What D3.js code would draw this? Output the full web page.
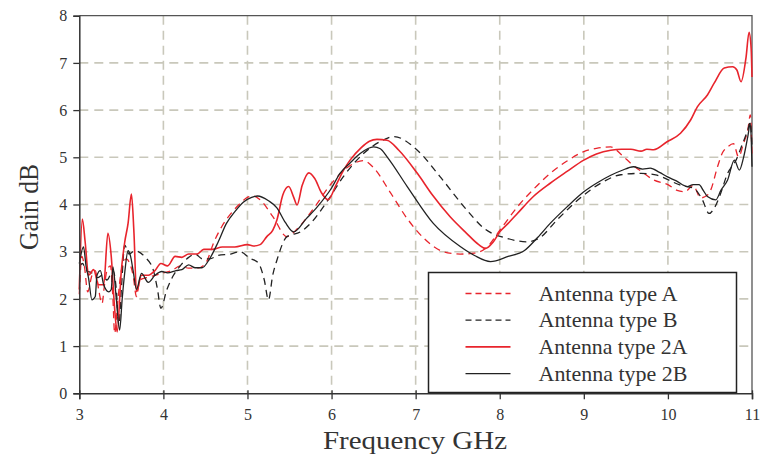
<!DOCTYPE html>
<html>
<head>
<meta charset="utf-8">
<script src="https://cdn.jsdelivr.net/npm/d3@7"></script>
<style>
  body { margin: 0; background: #fff; }
  svg { display: block; }
  text { font-family: "Liberation Serif", "Times New Roman", serif; fill: #333; }
</style>
</head>
<body>
<div id="chart"></div>
<script>
// x ticks and y ticks
const xTicks = [3, 4, 5, 6, 7, 8, 9, 10, 11]
const yTicks = [0, 1, 2, 3, 4, 5, 6, 7, 8]

// Antenna type A (red dashed)
const freqA = [3.0, 3.03, 3.06, 3.1, 3.15, 3.19, 3.23, 3.27, 3.3, 3.33, 3.37, 3.4, 3.42, 3.46, 3.5, 3.56, 3.6, 3.64, 3.68, 3.72, 3.8, 3.9, 4.0, 4.1, 4.2, 4.3, 4.4, 4.5, 4.6, 4.7, 4.8, 4.9, 5.0, 5.07, 5.15, 5.3, 5.47, 5.6, 5.8, 6.0, 6.2, 6.38, 6.5, 6.7, 6.9, 7.1, 7.3, 7.45, 7.53, 7.7, 7.85, 8.0, 8.21, 8.4, 8.6, 8.8, 9.0, 9.15, 9.32, 9.45, 9.56, 9.7, 9.83, 10.0, 10.11, 10.2, 10.3, 10.39, 10.47, 10.51, 10.59, 10.65, 10.71, 10.78, 10.84, 10.9, 10.95, 10.98, 11.0]
const gainA = [2.1, 2.9, 2.7, 2.15, 2.5, 2.6, 2.2, 1.9, 2.3, 2.61, 2.7, 2.0, 1.27, 2.0, 2.6, 2.85, 2.75, 2.5, 2.05, 2.4, 2.45, 2.5, 2.55, 2.6, 2.7, 2.65, 2.65, 2.75, 3.2, 3.55, 3.8, 4.0, 4.15, 4.18, 4.1, 3.75, 3.32, 3.5, 3.95, 4.45, 4.8, 4.93, 4.78, 4.25, 3.7, 3.28, 3.02, 2.96, 2.95, 2.97, 3.1, 3.45, 3.95, 4.32, 4.66, 4.92, 5.12, 5.19, 5.22, 5.05, 4.87, 4.68, 4.52, 4.42, 4.3, 4.27, 4.4, 4.14, 4.2, 4.31, 4.8, 5.1, 5.22, 5.29, 5.01, 5.3, 5.58, 5.9, 5.0]

// Antenna type B (black dashed)
const freqB = [3.0, 3.04, 3.08, 3.15, 3.22, 3.27, 3.33, 3.4, 3.44, 3.47, 3.5, 3.54, 3.59, 3.66, 3.78, 3.88, 3.93, 3.97, 4.04, 4.12, 4.2, 4.3, 4.38, 4.46, 4.55, 4.65, 4.8, 4.91, 5.03, 5.13, 5.2, 5.25, 5.3, 5.35, 5.47, 5.63, 5.75, 5.96, 6.14, 6.38, 6.62, 6.74, 7.02, 7.29, 7.61, 7.81, 8.09, 8.33, 8.48, 8.68, 9.0, 9.2, 9.44, 9.68, 9.87, 10.15, 10.31, 10.41, 10.49, 10.55, 10.62, 10.71, 10.81, 10.89, 10.95, 10.98, 11.0]
const gainB = [2.7, 2.75, 2.6, 2.55, 2.45, 2.5, 2.4, 2.6, 2.2, 1.45, 2.2, 3.14, 2.95, 3.02, 2.89, 2.61, 2.2, 1.8, 2.19, 2.5, 2.7, 2.88, 2.95, 2.85, 2.85, 2.92, 2.95, 3.0, 2.86, 2.76, 2.4, 1.98, 2.5, 2.82, 3.32, 3.42, 3.6, 4.1, 4.59, 5.08, 5.37, 5.44, 5.15, 4.59, 3.88, 3.5, 3.28, 3.21, 3.3, 3.67, 4.2, 4.45, 4.63, 4.66, 4.62, 4.41, 4.34, 4.1, 3.81, 3.92, 4.2, 4.66, 4.94, 5.3, 5.58, 5.75, 5.2]

// Antenna type 2A (red solid)
const freq2A = [3.0, 3.036, 3.07, 3.11, 3.17, 3.23, 3.29, 3.34, 3.38, 3.42, 3.45, 3.5, 3.54, 3.58, 3.62, 3.65, 3.68, 3.74, 3.82, 3.9, 3.97, 4.05, 4.14, 4.22, 4.3, 4.4, 4.48, 4.58, 4.7, 4.85, 5.0, 5.07, 5.15, 5.23, 5.3, 5.35, 5.42, 5.49, 5.55, 5.59, 5.65, 5.73, 5.8, 5.88, 5.96, 6.05, 6.15, 6.22, 6.35, 6.45, 6.54, 6.66, 6.8, 7.02, 7.2, 7.41, 7.6, 7.75, 7.83, 7.92, 8.0, 8.1, 8.21, 8.4, 8.6, 8.8, 9.0, 9.15, 9.32, 9.45, 9.56, 9.68, 9.75, 9.83, 9.99, 10.15, 10.27, 10.35, 10.47, 10.55, 10.67, 10.77, 10.82, 10.87, 10.93, 10.965, 10.99, 11.0]
const gain2A = [2.2, 3.69, 3.2, 2.5, 2.62, 2.3, 2.3, 3.39, 2.9, 1.8, 1.3, 2.6, 3.2, 3.6, 4.22, 3.4, 2.15, 2.5, 2.5, 2.6, 2.75, 2.7, 2.9, 2.88, 2.95, 2.95, 3.05, 3.05, 3.1, 3.1, 3.15, 3.12, 3.15, 3.32, 3.45, 3.67, 4.2, 4.38, 4.15, 3.99, 4.4, 4.67, 4.55, 4.25, 4.1, 4.4, 4.75, 4.94, 5.2, 5.34, 5.38, 5.36, 5.15, 4.66, 4.2, 3.74, 3.4, 3.15, 3.07, 3.2, 3.42, 3.6, 3.81, 4.17, 4.45, 4.7, 4.94, 5.07, 5.15, 5.17, 5.17, 5.13, 5.17, 5.16, 5.33, 5.51, 5.79, 6.07, 6.32, 6.57, 6.89, 6.92, 6.85, 6.6, 7.13, 7.65, 7.3, 6.7]

// Antenna type 2B (black solid)
const freq2B = [3.0, 3.05, 3.08, 3.11, 3.15, 3.19, 3.21, 3.25, 3.29, 3.35, 3.38, 3.4, 3.44, 3.48, 3.51, 3.54, 3.58, 3.61, 3.64, 3.68, 3.74, 3.82, 3.9, 3.98, 4.05, 4.15, 4.22, 4.3, 4.38, 4.46, 4.55, 4.65, 4.75, 4.85, 4.95, 5.05, 5.12, 5.25, 5.35, 5.45, 5.55, 5.7, 5.83, 6.0, 6.1, 6.22, 6.34, 6.5, 6.58, 6.66, 6.9, 7.21, 7.53, 7.7, 7.89, 8.1, 8.29, 8.45, 8.6, 8.8, 9.0, 9.15, 9.32, 9.45, 9.59, 9.7, 9.79, 9.9, 9.99, 10.1, 10.23, 10.3, 10.37, 10.42, 10.47, 10.57, 10.63, 10.71, 10.79, 10.85, 10.9, 10.95, 10.98, 11.0]
const gain2B = [2.75, 3.1, 2.7, 2.44, 1.98, 2.05, 2.5, 2.6, 2.3, 2.15, 2.2, 2.68, 2.0, 1.34, 2.0, 2.55, 3.02, 2.9, 2.6, 2.2, 2.54, 2.35, 2.5, 2.58, 2.55, 2.6, 2.62, 2.72, 2.66, 2.66, 2.85, 3.2, 3.6, 3.85, 4.05, 4.15, 4.18, 4.08, 3.93, 3.62, 3.42, 3.7, 3.95, 4.35, 4.66, 4.88, 5.08, 5.22, 5.18, 5.01, 4.38, 3.6, 3.11, 2.92, 2.79, 2.9, 3.02, 3.3, 3.6, 3.95, 4.27, 4.45, 4.62, 4.72, 4.8, 4.75, 4.77, 4.68, 4.59, 4.5, 4.38, 4.42, 4.42, 4.3, 4.17, 4.1, 4.3, 4.52, 4.94, 4.73, 5.0, 5.44, 5.72, 4.8]

const seriesNames = ['Antenna type A', 'Antenna type B', 'Antenna type 2A', 'Antenna type 2B']

// styling per series (not data)
const red = '#e8242c'
const black = '#222'
const styles = [
  {color: red, dash: '7,5', width: 1.3},
  {color: black, dash: '7,5', width: 1.3},
  {color: red, dash: null, width: 1.6},
  {color: black, dash: null, width: 1.3}
]

const series = [
  d3.zip(freqA, gainA),
  d3.zip(freqB, gainB),
  d3.zip(freq2A, gain2A),
  d3.zip(freq2B, gain2B)
]

const w = 762
const h = 459
const margin = {top: 15.7, right: 10, bottom: 65.7, left: 79.3}
const plotW = w - margin.left - margin.right
const plotH = h - margin.top - margin.bottom

const svg = d3.select('#chart')
  .append('svg')
    .attr('width', w)
    .attr('height', h)

const g = svg.append('g')
  .attr('transform', 'translate(' + margin.left + ',' + margin.top + ')')

const xScale = d3.scaleLinear().domain([3, 11]).range([0, plotW])
const yScale = d3.scaleLinear().domain([0, 8]).range([plotH, 0])

// dashed grid
g.append('g')
  .selectAll('line')
  .data(xTicks.slice(1, -1))
  .enter()
  .append('line')
  .attr('x1', d => xScale(d))
  .attr('x2', d => xScale(d))
  .attr('y1', 0)
  .attr('y2', plotH)
  .attr('stroke', '#c9c8bb')
  .attr('stroke-width', 1.6)
  .attr('stroke-dasharray', '9,6')

g.append('g')
  .selectAll('line')
  .data(yTicks.slice(1, -1))
  .enter()
  .append('line')
  .attr('x1', 0)
  .attr('x2', plotW)
  .attr('y1', d => yScale(d))
  .attr('y2', d => yScale(d))
  .attr('stroke', '#c9c8bb')
  .attr('stroke-width', 1.6)
  .attr('stroke-dasharray', '9,6')

// top and right border
g.append('path')
  .attr('d', 'M0,0H' + plotW + 'V' + plotH)
  .attr('fill', 'none')
  .attr('stroke', '#555')
  .attr('stroke-width', 1.3)

// curves
const line = d3.line()
  .x(d => xScale(d[0]))
  .y(d => yScale(d[1]))
  .curve(d3.curveMonotoneX)

g.append('g')
  .selectAll('path')
  .data(series)
  .enter()
  .append('path')
  .attr('d', line)
  .attr('fill', 'none')
  .attr('stroke', (d, i) => styles[i].color)
  .attr('stroke-width', (d, i) => styles[i].width)
  .attr('stroke-dasharray', (d, i) => styles[i].dash)

// axes
const xAxis = g.append('g')
  .attr('transform', 'translate(0,' + plotH + ')')
  .call(d3.axisBottom(xScale).tickValues(xTicks).tickSize(6).tickPadding(6).tickFormat(d3.format('d')))
const yAxis = g.append('g')
  .call(d3.axisLeft(yScale).tickValues(yTicks).tickSize(6).tickPadding(6).tickFormat(d3.format('d')))

xAxis.selectAll('line').attr('y2', 6).attr('y1', -3)
yAxis.selectAll('line').attr('x2', -6)
;[xAxis, yAxis].forEach(a => {
  a.select('.domain').attr('stroke', '#333').attr('stroke-width', 1.5)
  a.selectAll('line').attr('stroke', '#333').attr('stroke-width', 1.3)
  a.selectAll('text')
    .style('font-family', '"Liberation Serif", serif')
    .style('font-size', '16px')
    .attr('fill', '#333')
})
xAxis.selectAll('text').attr('dy', '0.9em')

// legend
const legend = g.append('g')
  .attr('transform', 'translate(' + (428.5 - margin.left) + ',' + (272.5 - margin.top) + ')')

legend.append('rect')
  .attr('width', 308)
  .attr('height', 120)
  .attr('fill', '#fff')
  .attr('stroke', '#222')
  .attr('stroke-width', 1.5)

const rows = legend.selectAll('.row')
  .data(seriesNames)
  .enter()
  .append('g')
  .attr('class', 'row')
  .attr('transform', (d, i) => 'translate(0,' + (21 + i * 26.7) + ')')

rows.append('line')
  .attr('x1', 37)
  .attr('x2', 82)
  .attr('stroke', (d, i) => styles[i].color)
  .attr('stroke-width', (d, i) => styles[i].width)
  .attr('stroke-dasharray', (d, i) => styles[i].dash ? '6,4' : null)

rows.append('text')
  .attr('x', 110)
  .attr('y', 7)
  .style('font-size', '21px')
  .attr('textLength', (d, i) => i < 2 ? 139 : 149)
  .attr('lengthAdjust', 'spacingAndGlyphs')
  .text(d => d)

// axis titles
svg.append('text')
  .attr('x', 415)
  .attr('y', 449)
  .attr('text-anchor', 'middle')
  .style('font-size', '26px')
  .attr('textLength', 184)
  .attr('lengthAdjust', 'spacingAndGlyphs')
  .text('Frequency GHz')

svg.append('text')
  .attr('transform', 'translate(38,207) rotate(-90)')
  .attr('text-anchor', 'middle')
  .style('font-size', '28px')
  .attr('textLength', 86)
  .attr('lengthAdjust', 'spacingAndGlyphs')
  .text('Gain dB')
</script>
</body>
</html>
